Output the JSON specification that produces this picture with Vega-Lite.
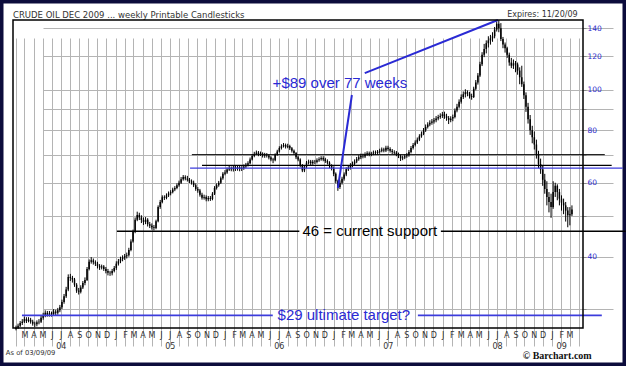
{
  "$schema": "https://vega.github.io/schema/vega-lite/v6.json",
  "width": 626,
  "height": 366,
  "autosize": {"type": "none"},
  "padding": 0,
  "background": "white",
  "config": {"view": {"fill": "white", "stroke": "#0c0c3c", "strokeWidth": 7}},
  "resolve": {"scale": {"color": "independent", "strokeWidth": "independent", "size": "independent"}},
  "datasets": {
    "candles": [
      {"d":"2004-02-02","o":26.9,"h":27.4,"l":26.7,"c":27.1},
      {"d":"2004-02-09","o":27.1,"h":27.7,"l":26.9,"c":27.4},
      {"d":"2004-02-16","o":27.4,"h":28.1,"l":27.2,"c":27.8},
      {"d":"2004-02-23","o":27.8,"h":28.4,"l":27.5,"c":28.0},
      {"d":"2004-03-01","o":28.0,"h":28.8,"l":27.8,"c":28.4},
      {"d":"2004-03-08","o":28.4,"h":28.7,"l":27.8,"c":28.1},
      {"d":"2004-03-15","o":28.1,"h":28.7,"l":27.9,"c":28.3},
      {"d":"2004-03-22","o":28.3,"h":28.6,"l":27.7,"c":28.0},
      {"d":"2004-03-29","o":28.0,"h":28.3,"l":27.4,"c":27.7},
      {"d":"2004-04-05","o":27.7,"h":28.0,"l":27.2,"c":27.6},
      {"d":"2004-04-12","o":27.6,"h":28.2,"l":27.3,"c":27.9},
      {"d":"2004-04-19","o":27.9,"h":28.4,"l":27.6,"c":28.0},
      {"d":"2004-04-26","o":28.0,"h":28.9,"l":27.8,"c":28.6},
      {"d":"2004-05-03","o":28.6,"h":29.4,"l":28.3,"c":29.0},
      {"d":"2004-05-10","o":29.0,"h":29.8,"l":28.7,"c":29.4},
      {"d":"2004-05-17","o":29.4,"h":29.7,"l":28.8,"c":29.1},
      {"d":"2004-05-24","o":29.1,"h":29.7,"l":28.8,"c":29.3},
      {"d":"2004-05-31","o":29.3,"h":29.6,"l":28.8,"c":29.2},
      {"d":"2004-06-07","o":29.2,"h":30.0,"l":28.9,"c":29.6},
      {"d":"2004-06-14","o":29.6,"h":29.9,"l":29.0,"c":29.4},
      {"d":"2004-06-21","o":29.4,"h":30.2,"l":29.1,"c":29.8},
      {"d":"2004-06-28","o":29.8,"h":30.7,"l":29.5,"c":30.3},
      {"d":"2004-07-05","o":30.3,"h":31.6,"l":30.0,"c":31.2},
      {"d":"2004-07-12","o":31.2,"h":32.6,"l":30.9,"c":32.2},
      {"d":"2004-07-19","o":32.2,"h":33.9,"l":31.9,"c":33.4},
      {"d":"2004-07-26","o":33.4,"h":36.3,"l":33.1,"c":35.8},
      {"d":"2004-08-02","o":35.8,"h":36.4,"l":35.0,"c":35.6},
      {"d":"2004-08-09","o":35.6,"h":36.0,"l":34.7,"c":35.3},
      {"d":"2004-08-16","o":35.3,"h":35.6,"l":33.9,"c":34.3},
      {"d":"2004-08-23","o":34.3,"h":34.6,"l":32.8,"c":33.2},
      {"d":"2004-08-30","o":33.2,"h":33.7,"l":32.5,"c":33.0},
      {"d":"2004-09-06","o":33.0,"h":34.2,"l":32.7,"c":33.8},
      {"d":"2004-09-13","o":33.8,"h":35.0,"l":33.5,"c":34.6},
      {"d":"2004-09-20","o":34.6,"h":35.7,"l":34.2,"c":35.2},
      {"d":"2004-09-27","o":35.2,"h":37.8,"l":35.0,"c":37.4},
      {"d":"2004-10-04","o":37.4,"h":39.4,"l":37.1,"c":38.9},
      {"d":"2004-10-11","o":38.9,"h":39.9,"l":38.5,"c":39.2},
      {"d":"2004-10-18","o":39.2,"h":39.6,"l":38.3,"c":38.8},
      {"d":"2004-10-25","o":38.8,"h":39.2,"l":38.0,"c":38.5},
      {"d":"2004-11-01","o":38.5,"h":38.9,"l":37.5,"c":38.0},
      {"d":"2004-11-08","o":38.0,"h":38.4,"l":37.2,"c":37.7},
      {"d":"2004-11-15","o":37.7,"h":38.3,"l":37.3,"c":37.9},
      {"d":"2004-11-22","o":37.9,"h":38.2,"l":37.0,"c":37.4},
      {"d":"2004-11-29","o":37.4,"h":37.8,"l":36.5,"c":37.0},
      {"d":"2004-12-06","o":37.0,"h":37.4,"l":36.1,"c":36.6},
      {"d":"2004-12-13","o":36.6,"h":37.0,"l":36.0,"c":36.5},
      {"d":"2004-12-20","o":36.5,"h":37.4,"l":36.1,"c":37.0},
      {"d":"2004-12-27","o":37.0,"h":38.0,"l":36.7,"c":37.6},
      {"d":"2005-01-03","o":37.6,"h":39.0,"l":37.2,"c":38.5},
      {"d":"2005-01-10","o":38.5,"h":39.5,"l":38.1,"c":39.0},
      {"d":"2005-01-17","o":39.0,"h":40.0,"l":38.6,"c":39.5},
      {"d":"2005-01-24","o":39.5,"h":40.3,"l":39.0,"c":39.8},
      {"d":"2005-01-31","o":39.8,"h":40.6,"l":39.3,"c":40.1},
      {"d":"2005-02-07","o":40.1,"h":40.9,"l":39.6,"c":40.3},
      {"d":"2005-02-14","o":40.3,"h":42.0,"l":40.0,"c":41.5},
      {"d":"2005-02-21","o":41.5,"h":44.0,"l":41.2,"c":43.5},
      {"d":"2005-02-28","o":43.5,"h":46.4,"l":43.2,"c":45.8},
      {"d":"2005-03-07","o":45.8,"h":49.6,"l":45.5,"c":49.0},
      {"d":"2005-03-14","o":49.0,"h":51.2,"l":48.6,"c":50.3},
      {"d":"2005-03-21","o":50.3,"h":50.9,"l":48.9,"c":49.6},
      {"d":"2005-03-28","o":49.6,"h":50.2,"l":48.1,"c":48.9},
      {"d":"2005-04-04","o":48.9,"h":49.6,"l":47.6,"c":48.4},
      {"d":"2005-04-11","o":48.4,"h":49.7,"l":47.8,"c":49.0},
      {"d":"2005-04-18","o":49.0,"h":49.4,"l":47.2,"c":47.8},
      {"d":"2005-04-25","o":47.8,"h":48.4,"l":46.8,"c":47.4},
      {"d":"2005-05-02","o":47.4,"h":48.0,"l":46.4,"c":47.0},
      {"d":"2005-05-09","o":47.0,"h":47.6,"l":46.2,"c":46.8},
      {"d":"2005-05-16","o":46.8,"h":49.0,"l":46.5,"c":48.6},
      {"d":"2005-05-23","o":48.6,"h":53.0,"l":48.3,"c":52.5},
      {"d":"2005-05-30","o":52.5,"h":54.6,"l":52.0,"c":54.0},
      {"d":"2005-06-06","o":54.0,"h":56.0,"l":53.6,"c":55.4},
      {"d":"2005-06-13","o":55.4,"h":56.0,"l":54.6,"c":55.2},
      {"d":"2005-06-20","o":55.2,"h":56.6,"l":54.8,"c":56.0},
      {"d":"2005-06-27","o":56.0,"h":57.2,"l":55.5,"c":56.6},
      {"d":"2005-07-04","o":56.6,"h":57.6,"l":56.0,"c":57.0},
      {"d":"2005-07-11","o":57.0,"h":58.4,"l":56.6,"c":57.8},
      {"d":"2005-07-18","o":57.8,"h":58.9,"l":57.3,"c":58.3},
      {"d":"2005-07-25","o":58.3,"h":59.8,"l":57.9,"c":59.2},
      {"d":"2005-08-01","o":59.2,"h":60.7,"l":58.7,"c":60.0},
      {"d":"2005-08-08","o":60.0,"h":61.9,"l":59.6,"c":61.2},
      {"d":"2005-08-15","o":61.2,"h":62.6,"l":60.7,"c":61.9},
      {"d":"2005-08-22","o":61.9,"h":62.5,"l":60.8,"c":61.4},
      {"d":"2005-08-29","o":61.4,"h":62.3,"l":60.4,"c":61.0},
      {"d":"2005-09-05","o":61.0,"h":61.6,"l":59.9,"c":60.5},
      {"d":"2005-09-12","o":60.5,"h":61.1,"l":59.4,"c":60.0},
      {"d":"2005-09-19","o":60.0,"h":60.7,"l":58.6,"c":59.2},
      {"d":"2005-09-26","o":59.2,"h":59.8,"l":57.4,"c":58.0},
      {"d":"2005-10-03","o":58.0,"h":58.6,"l":56.8,"c":57.5},
      {"d":"2005-10-10","o":57.5,"h":58.0,"l":55.6,"c":56.2},
      {"d":"2005-10-17","o":56.2,"h":56.8,"l":54.7,"c":55.3},
      {"d":"2005-10-24","o":55.3,"h":56.2,"l":54.7,"c":55.5},
      {"d":"2005-10-31","o":55.5,"h":56.0,"l":54.2,"c":54.8},
      {"d":"2005-11-07","o":54.8,"h":55.8,"l":54.2,"c":55.2},
      {"d":"2005-11-14","o":55.2,"h":55.8,"l":54.3,"c":54.9},
      {"d":"2005-11-21","o":54.9,"h":57.0,"l":54.5,"c":56.5},
      {"d":"2005-11-28","o":56.5,"h":58.9,"l":56.1,"c":58.3},
      {"d":"2005-12-05","o":58.3,"h":59.8,"l":57.8,"c":59.2},
      {"d":"2005-12-12","o":59.2,"h":60.6,"l":58.7,"c":60.0},
      {"d":"2005-12-19","o":60.0,"h":62.1,"l":59.6,"c":61.5},
      {"d":"2005-12-26","o":61.5,"h":63.6,"l":61.0,"c":63.0},
      {"d":"2006-01-02","o":63.0,"h":64.3,"l":62.5,"c":63.5},
      {"d":"2006-01-09","o":63.5,"h":65.2,"l":63.0,"c":64.5},
      {"d":"2006-01-16","o":64.5,"h":65.9,"l":64.0,"c":65.0},
      {"d":"2006-01-23","o":65.0,"h":65.6,"l":63.9,"c":64.6},
      {"d":"2006-01-30","o":64.6,"h":66.0,"l":63.8,"c":65.2},
      {"d":"2006-02-06","o":65.2,"h":65.9,"l":64.0,"c":64.8},
      {"d":"2006-02-13","o":64.8,"h":66.0,"l":64.1,"c":65.3},
      {"d":"2006-02-20","o":65.3,"h":65.8,"l":63.9,"c":64.7},
      {"d":"2006-02-27","o":64.7,"h":65.7,"l":64.0,"c":65.0},
      {"d":"2006-03-06","o":65.0,"h":66.3,"l":64.4,"c":65.6},
      {"d":"2006-03-13","o":65.6,"h":66.9,"l":65.0,"c":66.2},
      {"d":"2006-03-20","o":66.2,"h":67.5,"l":65.6,"c":66.8},
      {"d":"2006-03-27","o":66.8,"h":68.9,"l":66.4,"c":68.2},
      {"d":"2006-04-03","o":68.2,"h":70.2,"l":67.8,"c":69.5},
      {"d":"2006-04-10","o":69.5,"h":71.1,"l":69.0,"c":70.3},
      {"d":"2006-04-17","o":70.3,"h":71.6,"l":69.8,"c":70.8},
      {"d":"2006-04-24","o":70.8,"h":71.4,"l":69.4,"c":70.1},
      {"d":"2006-05-01","o":70.1,"h":71.2,"l":69.5,"c":70.4},
      {"d":"2006-05-08","o":70.4,"h":70.9,"l":68.9,"c":69.6},
      {"d":"2006-05-15","o":69.6,"h":70.7,"l":68.8,"c":70.0},
      {"d":"2006-05-22","o":70.0,"h":70.6,"l":68.9,"c":69.7},
      {"d":"2006-05-29","o":69.7,"h":70.2,"l":68.2,"c":68.9},
      {"d":"2006-06-05","o":68.9,"h":69.4,"l":67.5,"c":68.2},
      {"d":"2006-06-12","o":68.2,"h":68.8,"l":66.8,"c":67.9},
      {"d":"2006-06-19","o":67.9,"h":70.5,"l":67.5,"c":70.0},
      {"d":"2006-06-26","o":70.0,"h":71.9,"l":69.6,"c":71.2},
      {"d":"2006-07-03","o":71.2,"h":73.3,"l":70.8,"c":72.6},
      {"d":"2006-07-10","o":72.6,"h":74.1,"l":72.0,"c":73.3},
      {"d":"2006-07-17","o":73.3,"h":74.6,"l":72.8,"c":73.8},
      {"d":"2006-07-24","o":73.8,"h":74.4,"l":72.4,"c":73.1},
      {"d":"2006-07-31","o":73.1,"h":74.3,"l":72.5,"c":73.4},
      {"d":"2006-08-07","o":73.4,"h":73.9,"l":71.8,"c":72.5},
      {"d":"2006-08-14","o":72.5,"h":73.0,"l":70.8,"c":71.5},
      {"d":"2006-08-21","o":71.5,"h":72.0,"l":69.9,"c":70.6},
      {"d":"2006-08-28","o":70.6,"h":71.0,"l":68.3,"c":69.0},
      {"d":"2006-09-04","o":69.0,"h":69.6,"l":67.5,"c":68.2},
      {"d":"2006-09-11","o":68.2,"h":68.6,"l":65.3,"c":66.0},
      {"d":"2006-09-18","o":66.0,"h":66.5,"l":63.6,"c":64.2},
      {"d":"2006-09-25","o":64.2,"h":66.0,"l":63.6,"c":65.5},
      {"d":"2006-10-02","o":65.5,"h":67.6,"l":65.0,"c":67.0},
      {"d":"2006-10-09","o":67.0,"h":68.1,"l":66.3,"c":67.4},
      {"d":"2006-10-16","o":67.4,"h":68.0,"l":66.1,"c":66.8},
      {"d":"2006-10-23","o":66.8,"h":68.0,"l":66.2,"c":67.3},
      {"d":"2006-10-30","o":67.3,"h":68.0,"l":66.5,"c":67.2},
      {"d":"2006-11-06","o":67.2,"h":68.6,"l":66.7,"c":67.9},
      {"d":"2006-11-13","o":67.9,"h":69.0,"l":67.3,"c":68.3},
      {"d":"2006-11-20","o":68.3,"h":69.4,"l":67.7,"c":68.7},
      {"d":"2006-11-27","o":68.7,"h":69.4,"l":67.5,"c":68.2},
      {"d":"2006-12-04","o":68.2,"h":68.8,"l":66.9,"c":67.6},
      {"d":"2006-12-11","o":67.6,"h":68.2,"l":66.3,"c":67.0},
      {"d":"2006-12-18","o":67.0,"h":67.5,"l":65.0,"c":65.8},
      {"d":"2006-12-25","o":65.8,"h":66.4,"l":64.2,"c":65.0},
      {"d":"2007-01-01","o":65.0,"h":65.6,"l":62.2,"c":63.0},
      {"d":"2007-01-08","o":63.0,"h":63.5,"l":59.8,"c":60.5},
      {"d":"2007-01-15","o":60.5,"h":61.0,"l":57.4,"c":58.6},
      {"d":"2007-01-22","o":58.6,"h":60.8,"l":58.0,"c":60.0},
      {"d":"2007-01-29","o":60.0,"h":62.0,"l":59.4,"c":61.3},
      {"d":"2007-02-05","o":61.3,"h":63.5,"l":60.7,"c":62.8},
      {"d":"2007-02-12","o":62.8,"h":65.3,"l":62.2,"c":64.6},
      {"d":"2007-02-19","o":64.6,"h":66.0,"l":64.0,"c":65.2},
      {"d":"2007-02-26","o":65.2,"h":66.8,"l":64.5,"c":66.0},
      {"d":"2007-03-05","o":66.0,"h":67.4,"l":65.3,"c":66.6},
      {"d":"2007-03-12","o":66.6,"h":68.2,"l":65.9,"c":67.4},
      {"d":"2007-03-19","o":67.4,"h":69.1,"l":66.8,"c":68.3},
      {"d":"2007-03-26","o":68.3,"h":69.8,"l":67.7,"c":69.0},
      {"d":"2007-04-02","o":69.0,"h":70.4,"l":68.3,"c":69.6},
      {"d":"2007-04-09","o":69.6,"h":70.4,"l":68.6,"c":69.3},
      {"d":"2007-04-16","o":69.3,"h":70.9,"l":68.7,"c":70.2},
      {"d":"2007-04-23","o":70.2,"h":71.3,"l":69.5,"c":70.5},
      {"d":"2007-04-30","o":70.5,"h":71.2,"l":69.4,"c":70.1},
      {"d":"2007-05-07","o":70.1,"h":71.1,"l":69.4,"c":70.4},
      {"d":"2007-05-14","o":70.4,"h":71.6,"l":69.8,"c":70.8},
      {"d":"2007-05-21","o":70.8,"h":71.6,"l":69.9,"c":70.6},
      {"d":"2007-05-28","o":70.6,"h":71.8,"l":70.0,"c":71.1},
      {"d":"2007-06-04","o":71.1,"h":72.3,"l":70.4,"c":71.5},
      {"d":"2007-06-11","o":71.5,"h":72.8,"l":70.9,"c":72.0},
      {"d":"2007-06-18","o":72.0,"h":72.7,"l":70.9,"c":71.6},
      {"d":"2007-06-25","o":71.6,"h":73.5,"l":71.0,"c":72.7},
      {"d":"2007-07-02","o":72.7,"h":73.5,"l":71.5,"c":72.2},
      {"d":"2007-07-09","o":72.2,"h":72.9,"l":70.8,"c":71.5},
      {"d":"2007-07-16","o":71.5,"h":72.2,"l":70.2,"c":71.0},
      {"d":"2007-07-23","o":71.0,"h":71.7,"l":70.0,"c":70.8},
      {"d":"2007-07-30","o":70.8,"h":71.4,"l":69.4,"c":70.2},
      {"d":"2007-08-06","o":70.2,"h":70.8,"l":68.7,"c":69.5},
      {"d":"2007-08-13","o":69.5,"h":70.0,"l":67.6,"c":68.6},
      {"d":"2007-08-20","o":68.6,"h":69.6,"l":67.9,"c":68.9},
      {"d":"2007-08-27","o":68.9,"h":70.1,"l":68.3,"c":69.4},
      {"d":"2007-09-03","o":69.4,"h":70.6,"l":68.8,"c":69.8},
      {"d":"2007-09-10","o":69.8,"h":71.8,"l":69.2,"c":71.0},
      {"d":"2007-09-17","o":71.0,"h":73.4,"l":70.5,"c":72.6},
      {"d":"2007-09-24","o":72.6,"h":74.6,"l":72.0,"c":73.8},
      {"d":"2007-10-01","o":73.8,"h":75.7,"l":73.2,"c":74.8},
      {"d":"2007-10-08","o":74.8,"h":76.9,"l":74.2,"c":76.0},
      {"d":"2007-10-15","o":76.0,"h":78.3,"l":75.4,"c":77.4},
      {"d":"2007-10-22","o":77.4,"h":79.5,"l":76.8,"c":78.5},
      {"d":"2007-10-29","o":78.5,"h":81.0,"l":77.9,"c":80.0},
      {"d":"2007-11-05","o":80.0,"h":82.6,"l":79.3,"c":81.5},
      {"d":"2007-11-12","o":81.5,"h":83.6,"l":80.8,"c":82.6},
      {"d":"2007-11-19","o":82.6,"h":84.5,"l":81.8,"c":83.4},
      {"d":"2007-11-26","o":83.4,"h":85.1,"l":82.5,"c":84.0},
      {"d":"2007-12-03","o":84.0,"h":85.6,"l":83.0,"c":84.5},
      {"d":"2007-12-10","o":84.5,"h":86.5,"l":83.6,"c":85.4},
      {"d":"2007-12-17","o":85.4,"h":87.1,"l":84.5,"c":86.0},
      {"d":"2007-12-24","o":86.0,"h":87.8,"l":85.2,"c":86.6},
      {"d":"2007-12-31","o":86.6,"h":88.5,"l":85.6,"c":87.3},
      {"d":"2008-01-07","o":87.3,"h":88.6,"l":85.2,"c":86.5},
      {"d":"2008-01-14","o":86.5,"h":87.6,"l":84.3,"c":85.6},
      {"d":"2008-01-21","o":85.6,"h":86.5,"l":82.8,"c":84.6},
      {"d":"2008-01-28","o":84.6,"h":86.4,"l":83.6,"c":85.3},
      {"d":"2008-02-04","o":85.3,"h":87.2,"l":84.1,"c":86.0},
      {"d":"2008-02-11","o":86.0,"h":90.2,"l":85.4,"c":89.2},
      {"d":"2008-02-18","o":89.2,"h":92.5,"l":88.3,"c":91.0},
      {"d":"2008-02-25","o":91.0,"h":94.8,"l":90.2,"c":93.5},
      {"d":"2008-03-03","o":93.5,"h":97.4,"l":92.6,"c":96.0},
      {"d":"2008-03-10","o":96.0,"h":99.0,"l":95.0,"c":97.5},
      {"d":"2008-03-17","o":97.5,"h":100.2,"l":95.8,"c":98.6},
      {"d":"2008-03-24","o":98.6,"h":99.6,"l":96.4,"c":97.8},
      {"d":"2008-03-31","o":97.8,"h":98.8,"l":95.2,"c":96.5},
      {"d":"2008-04-07","o":96.5,"h":97.8,"l":94.6,"c":96.0},
      {"d":"2008-04-14","o":96.0,"h":101.6,"l":95.5,"c":100.5},
      {"d":"2008-04-21","o":100.5,"h":105.4,"l":99.6,"c":104.0},
      {"d":"2008-04-28","o":104.0,"h":109.5,"l":102.8,"c":108.0},
      {"d":"2008-05-05","o":108.0,"h":116.5,"l":107.2,"c":115.0},
      {"d":"2008-05-12","o":115.0,"h":122.8,"l":113.8,"c":121.0},
      {"d":"2008-05-19","o":121.0,"h":128.5,"l":119.5,"c":125.0},
      {"d":"2008-05-26","o":125.0,"h":131.0,"l":122.0,"c":129.0},
      {"d":"2008-06-02","o":129.0,"h":134.0,"l":126.0,"c":131.0},
      {"d":"2008-06-09","o":131.0,"h":135.0,"l":128.0,"c":132.5},
      {"d":"2008-06-16","o":132.5,"h":137.0,"l":130.0,"c":134.0},
      {"d":"2008-06-23","o":134.0,"h":141.0,"l":132.5,"c":139.0},
      {"d":"2008-06-30","o":139.0,"h":145.5,"l":137.5,"c":143.5},
      {"d":"2008-07-07","o":143.5,"h":146.3,"l":137.0,"c":140.0},
      {"d":"2008-07-14","o":140.0,"h":144.0,"l":130.5,"c":132.0},
      {"d":"2008-07-21","o":132.0,"h":133.5,"l":125.5,"c":128.0},
      {"d":"2008-07-28","o":128.0,"h":129.5,"l":122.5,"c":125.5},
      {"d":"2008-08-04","o":125.5,"h":126.5,"l":119.0,"c":121.0},
      {"d":"2008-08-11","o":121.0,"h":122.5,"l":114.0,"c":116.0},
      {"d":"2008-08-18","o":116.0,"h":119.0,"l":112.5,"c":114.0},
      {"d":"2008-08-25","o":114.0,"h":118.0,"l":112.0,"c":115.5},
      {"d":"2008-09-01","o":115.5,"h":117.0,"l":110.0,"c":114.8},
      {"d":"2008-09-08","o":114.8,"h":116.0,"l":108.5,"c":111.0},
      {"d":"2008-09-15","o":111.0,"h":113.0,"l":103.0,"c":107.0},
      {"d":"2008-09-22","o":107.0,"h":114.0,"l":101.5,"c":103.0},
      {"d":"2008-09-29","o":103.0,"h":104.5,"l":95.0,"c":97.0},
      {"d":"2008-10-06","o":97.0,"h":98.5,"l":88.5,"c":91.0},
      {"d":"2008-10-13","o":91.0,"h":93.0,"l":83.0,"c":85.0},
      {"d":"2008-10-20","o":85.0,"h":87.0,"l":78.0,"c":80.0},
      {"d":"2008-10-27","o":80.0,"h":82.0,"l":74.5,"c":77.0},
      {"d":"2008-11-03","o":77.0,"h":79.5,"l":72.0,"c":74.0},
      {"d":"2008-11-10","o":74.0,"h":76.0,"l":68.5,"c":70.0},
      {"d":"2008-11-17","o":70.0,"h":71.5,"l":65.0,"c":66.5},
      {"d":"2008-11-24","o":66.5,"h":68.5,"l":63.0,"c":64.5},
      {"d":"2008-12-01","o":64.5,"h":66.0,"l":59.0,"c":61.0},
      {"d":"2008-12-08","o":61.0,"h":63.0,"l":56.5,"c":58.0},
      {"d":"2008-12-15","o":58.0,"h":60.5,"l":53.0,"c":55.5},
      {"d":"2008-12-22","o":55.5,"h":57.0,"l":51.0,"c":54.0},
      {"d":"2008-12-29","o":54.0,"h":56.5,"l":49.5,"c":52.5},
      {"d":"2009-01-05","o":52.5,"h":60.5,"l":52.0,"c":57.0},
      {"d":"2009-01-12","o":57.0,"h":60.0,"l":55.5,"c":59.0},
      {"d":"2009-01-19","o":59.0,"h":59.5,"l":54.5,"c":57.0},
      {"d":"2009-01-26","o":57.0,"h":58.0,"l":53.0,"c":55.0},
      {"d":"2009-02-02","o":55.0,"h":56.0,"l":51.5,"c":53.8},
      {"d":"2009-02-09","o":53.8,"h":55.0,"l":50.5,"c":53.0},
      {"d":"2009-02-16","o":53.0,"h":54.0,"l":48.5,"c":51.5},
      {"d":"2009-02-23","o":51.5,"h":52.5,"l":47.0,"c":50.2},
      {"d":"2009-03-02","o":50.2,"h":52.5,"l":47.5,"c":50.5},
      {"d":"2009-03-09","o":50.5,"h":53.0,"l":50.0,"c":51.8}
    ],
    "levels": [
      {"kind":"upper","v":70,"start":"2005-09-13","end":"2009-06-27"},
      {"kind":"mid","v":66,"start":"2005-10-17","end":"2009-07-20"},
      {"kind":"lower","v":65,"start":"2005-09-07","end":"2009-08-26"},
      {"kind":"support","v":46,"start":"2005-01-05","end":"2006-09-08"},
      {"kind":"support","v":46,"start":"2007-12-26","end":"2009-09-05"},
      {"kind":"target","v":29,"start":"2004-02-22","end":"2006-06-11"},
      {"kind":"target","v":29,"start":"2007-10-10","end":"2009-06-17"}
    ],
    "trend": [
      {"seg":"a","d":"2007-01-15","v":58.3},
      {"seg":"a","d":"2007-03-03","v":97.1},
      {"seg":"b","d":"2007-04-15","v":109.5},
      {"seg":"b","d":"2008-07-04","v":146.5}
    ],
    "notes": [
      {"kind":"gain","text":"+$89 over 77 weeks","d":"2007-01-22","v":103.7},
      {"kind":"support","text":"46 = current support","d":"2007-05-02","v":46},
      {"kind":"target","text":"$29 ultimate target?","d":"2007-02-04","v":29.1}
    ],
    "leftCaptions": [
      {"role":"title","text":"CRUDE OIL DEC 2009 ... weekly Printable Candlesticks","d":"2004-01-23","v":150.6},
      {"role":"asof","text":"As of 03/09/09","d":"2003-12-30","v":23.6}
    ],
    "rightCaptions": [
      {"role":"expires","text":"Expires: 11/20/09","d":"2009-03-28","v":150.6}
    ],
    "credit": [
      {"text":"© Barchart.com","d":"2009-05-14","v":23.2}
    ]
  },
  "layer": [
    {
      "data": {"name": "candles"},
      "mark": {"type": "rule", "color": "#000000", "strokeWidth": 1},
      "encoding": {
        "x": {
          "field": "d", "type": "temporal",
          "scale": {"type": "utc", "domain": [{"year":2004,"month":1,"date":23,"utc":true},{"year":2009,"month":4,"date":15,"utc":true}], "range": [13, 583], "nice": false},
          "axis": {
            "orient": "bottom", "offset": -38, "title": null, "domain": false, "ticks": false,
            "grid": true, "gridColor": "#b4b4b4", "gridWidth": 1,
            "tickCount": {"interval": "month", "step": 1},
            "labelOverlap": false, "labelFlush": false, "labelBound": false,
            "labelFont": "DejaVu Sans", "labelFontSize": 8, "labelColor": "#333333",
            "labelPadding": 3, "labelLineHeight": 11,
            "labelExpr": "((utcyear(datum.value) == 2004 && utcmonth(datum.value) < 2) || (utcyear(datum.value) == 2009 && utcmonth(datum.value) > 2)) ? '' : [slice(utcFormat(datum.value, '%b'), 0, 1), (utcmonth(datum.value) == 6 || (utcyear(datum.value) == 2009 && utcmonth(datum.value) == 1)) ? utcFormat(datum.value, '%y') : '']"
          }
        },
        "y": {
          "field": "l", "type": "quantitative",
          "scale": {"type": "log", "domain": [27.05, 146.5], "range": [328, 20], "nice": false, "zero": false},
          "axis": {
            "orient": "right", "offset": -43, "title": null, "domain": false,
            "values": [30, 40, 50, 60, 70, 80, 90, 100, 120, 140],
            "format": "d",
            "labelExpr": "datum.value % 20 == 0 ? datum.label : ''",
            "grid": true, "gridColor": "#b4b4b4", "gridWidth": 1,
            "ticks": true, "tickSize": 3, "tickColor": "#888888",
            "labelFont": "DejaVu Sans", "labelFontSize": 7.5, "labelColor": "#2a2acc", "labelPadding": 1
          }
        },
        "y2": {"field": "h"}
      }
    },
    {
      "data": {"name": "candles"},
      "mark": {"type": "rule", "color": "#000000", "strokeWidth": 1.5},
      "encoding": {
        "x": {"field": "d", "type": "temporal", "scale": {"type": "utc"}},
        "y": {"field": "o", "type": "quantitative", "scale": {"type": "log"}},
        "y2": {"field": "c"}
      }
    },
    {
      "data": {"name": "levels"},
      "mark": {"type": "rule", "clip": false},
      "encoding": {
        "x": {"field": "start", "type": "temporal", "scale": {"type": "utc"}},
        "x2": {"field": "end"},
        "y": {"field": "v", "type": "quantitative", "scale": {"type": "log"}},
        "color": {"field": "kind", "type": "nominal", "legend": null,
          "scale": {"domain": ["upper", "mid", "lower", "support", "target"], "range": ["#000000", "#000000", "#3c3cdc", "#000000", "#3c3cdc"]}},
        "strokeWidth": {"field": "kind", "type": "nominal", "legend": null,
          "scale": {"domain": ["upper", "mid", "lower", "support", "target"], "range": [1, 1.8, 1.8, 1.8, 1.2]}}
      }
    },
    {
      "data": {"name": "trend"},
      "mark": {"type": "line", "color": "#2a2ad4", "strokeWidth": 2},
      "encoding": {
        "x": {"field": "d", "type": "temporal", "scale": {"type": "utc"}},
        "y": {"field": "v", "type": "quantitative", "scale": {"type": "log"}},
        "detail": {"field": "seg"}
      }
    },
    {
      "data": {"name": "notes"},
      "mark": {"type": "text", "font": "Liberation Sans", "fontSize": 15, "align": "center", "baseline": "middle"},
      "encoding": {
        "x": {"field": "d", "type": "temporal", "scale": {"type": "utc"}},
        "y": {"field": "v", "type": "quantitative", "scale": {"type": "log"}},
        "text": {"field": "text"},
        "color": {"field": "kind", "type": "nominal", "legend": null,
          "scale": {"domain": ["gain", "support", "target"], "range": ["#2a2ad4", "#000000", "#2a2ad4"]}}
      }
    },
    {
      "data": {"name": "leftCaptions"},
      "mark": {"type": "text", "font": "DejaVu Sans", "align": "left", "baseline": "middle", "color": "#333333"},
      "encoding": {
        "x": {"field": "d", "type": "temporal", "scale": {"type": "utc"}},
        "y": {"field": "v", "type": "quantitative", "scale": {"type": "log"}},
        "text": {"field": "text"},
        "size": {"field": "role", "type": "nominal", "legend": null,
          "scale": {"domain": ["title", "asof"], "range": [8.5, 6.8]}}
      }
    },
    {
      "data": {"name": "rightCaptions"},
      "mark": {"type": "text", "font": "DejaVu Sans", "fontSize": 8, "align": "right", "baseline": "middle", "color": "#333333"},
      "encoding": {
        "x": {"field": "d", "type": "temporal", "scale": {"type": "utc"}},
        "y": {"field": "v", "type": "quantitative", "scale": {"type": "log"}},
        "text": {"field": "text"}
      }
    },
    {
      "data": {"name": "credit"},
      "mark": {"type": "text", "font": "Liberation Serif", "fontWeight": "bold", "fontSize": 10, "align": "right", "baseline": "middle", "color": "#111111"},
      "encoding": {
        "x": {"field": "d", "type": "temporal", "scale": {"type": "utc"}},
        "y": {"field": "v", "type": "quantitative", "scale": {"type": "log"}},
        "text": {"field": "text"}
      }
    },
    {
      "data": {"values": [{}]},
      "mark": {"type": "rect", "fillOpacity": 0, "stroke": "#000000", "strokeWidth": 1.5},
      "encoding": {
        "x": {"datum": {"year":2004,"month":1,"date":23,"utc":true}, "type": "temporal", "scale": {"type": "utc"}},
        "x2": {"datum": {"year":2009,"month":4,"date":15,"utc":true}},
        "y": {"datum": 146.5, "type": "quantitative", "scale": {"type": "log"}},
        "y2": {"datum": 27.05}
      }
    }
  ]
}
